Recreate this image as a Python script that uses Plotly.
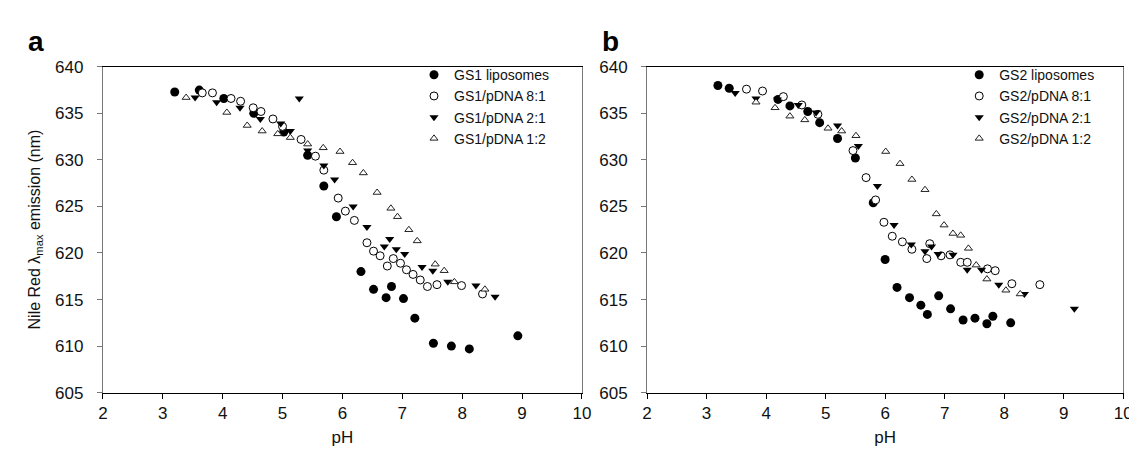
import plotly.graph_objects as go

# ---------------- Panel a (GS1) ----------------
a_lipo_x = [3.20, 3.61, 4.02, 4.52, 5.02, 5.42, 5.69, 5.90, 6.31, 6.52, 6.73, 6.82, 7.02, 7.21, 7.52, 7.82, 8.12, 8.93]
a_lipo_y = [637.3, 637.5, 636.6, 635.0, 633.0, 630.5, 627.2, 623.9, 618.0, 616.1, 615.2, 616.4, 615.1, 613.0, 610.3, 610.0, 609.7, 611.1]

a_81_x = [3.66, 3.83, 4.14, 4.30, 4.51, 4.64, 4.84, 5.00, 5.31, 5.55, 5.69, 5.93, 6.05, 6.20, 6.41, 6.52, 6.63, 6.75, 6.85, 6.97, 7.07, 7.18, 7.30, 7.42, 7.58, 7.99, 8.34]
a_81_y = [637.2, 637.2, 636.6, 636.3, 635.6, 635.2, 634.4, 633.6, 632.2, 630.4, 628.9, 625.9, 624.5, 623.5, 621.1, 620.2, 619.7, 618.6, 619.4, 618.9, 618.2, 617.7, 617.1, 616.4, 616.6, 616.5, 615.6]

a_21_x = [3.54, 3.90, 4.29, 4.63, 4.97, 5.13, 5.28, 5.42, 5.69, 5.87, 6.18, 6.41, 6.70, 6.79, 6.90, 7.04, 7.33, 7.51, 7.76, 8.23, 8.55]
a_21_y = [636.7, 636.2, 635.6, 634.4, 633.9, 633.1, 636.6, 631.0, 629.4, 627.9, 625.0, 622.8, 620.7, 621.5, 620.4, 619.9, 618.5, 618.1, 616.9, 616.5, 615.3]

a_12_x = [3.39, 4.07, 4.41, 4.66, 4.92, 5.13, 5.42, 5.68, 5.96, 6.17, 6.35, 6.58, 6.81, 6.92, 7.11, 7.25, 7.55, 7.70, 7.87, 8.38]
a_12_y = [636.7, 635.1, 633.7, 633.1, 632.8, 632.4, 631.7, 631.3, 630.9, 629.7, 628.6, 626.5, 624.8, 623.9, 622.5, 621.3, 618.8, 618.1, 616.9, 616.1]

# ---------------- Panel b (GS2) ----------------
b_lipo_x = [3.19, 3.38, 4.20, 4.40, 4.70, 4.90, 5.20, 5.50, 5.80, 6.00, 6.20, 6.41, 6.60, 6.71, 6.90, 7.10, 7.31, 7.51, 7.71, 7.81, 8.11]
b_lipo_y = [638.0, 637.7, 636.5, 635.8, 635.2, 634.0, 632.3, 630.2, 625.4, 619.3, 616.3, 615.2, 614.4, 613.4, 615.4, 614.0, 612.8, 613.0, 612.4, 613.2, 612.5]

b_81_x = [3.67, 3.94, 4.29, 4.60, 4.87, 5.46, 5.68, 5.84, 5.98, 6.12, 6.29, 6.45, 6.70, 6.75, 6.94, 7.09, 7.27, 7.38, 7.72, 7.85, 8.13, 8.60]
b_81_y = [637.6, 637.4, 636.8, 635.9, 634.9, 631.0, 628.1, 625.7, 623.3, 621.8, 621.2, 620.4, 619.4, 621.0, 619.7, 619.8, 619.0, 619.0, 618.3, 618.1, 616.7, 616.6]

b_21_x = [3.48, 3.83, 4.19, 4.54, 4.84, 5.20, 5.55, 5.87, 6.15, 6.44, 6.67, 6.78, 6.89, 7.14, 7.38, 7.62, 7.91, 8.34, 9.18]
b_21_y = [637.2, 636.6, 636.5, 635.9, 635.1, 633.7, 631.5, 627.2, 623.0, 620.9, 620.2, 620.7, 619.9, 619.8, 618.2, 618.2, 616.6, 615.6, 614.0]

b_12_x = [3.83, 4.15, 4.40, 4.65, 5.04, 5.27, 5.51, 6.01, 6.25, 6.45, 6.67, 6.86, 6.99, 7.14, 7.27, 7.40, 7.53, 7.71, 8.03, 8.27]
b_12_y = [636.2, 635.6, 634.7, 634.3, 633.4, 633.1, 632.6, 630.9, 629.6, 627.9, 626.8, 624.2, 623.0, 622.1, 621.9, 620.5, 618.7, 617.2, 616.0, 615.6]

names_a = ["GS1 liposomes", "GS1/pDNA 8:1", "GS1/pDNA 2:1", "GS1/pDNA 1:2"]
names_b = ["GS2 liposomes", "GS2/pDNA 8:1", "GS2/pDNA 2:1", "GS2/pDNA 1:2"]
x_ticks = [2, 3, 4, 5, 6, 7, 8, 9, 10]
y_ticks = [605, 610, 615, 620, 625, 630, 635, 640]

styles = [
    dict(symbol="circle", size=9, color="black", line=dict(color="black", width=0)),
    dict(symbol="circle", size=8, color="white", line=dict(color="black", width=1)),
    dict(symbol="triangle-down", size=8, color="black", line=dict(color="black", width=0)),
    dict(symbol="triangle-up", size=7, color="white", line=dict(color="#222222", width=1)),
]

fig = go.Figure()
series_a = [(a_lipo_x, a_lipo_y), (a_81_x, a_81_y), (a_21_x, a_21_y), (a_12_x, a_12_y)]
series_b = [(b_lipo_x, b_lipo_y), (b_81_x, b_81_y), (b_21_x, b_21_y), (b_12_x, b_12_y)]
for (x, y), nm, st in zip(series_a, names_a, styles):
    fig.add_trace(go.Scatter(x=x, y=y, mode="markers", name=nm, marker=st,
                             xaxis="x", yaxis="y", legend="legend"))
for (x, y), nm, st in zip(series_b, names_b, styles):
    fig.add_trace(go.Scatter(x=x, y=y, mode="markers", name=nm, marker=st,
                             xaxis="x2", yaxis="y2", legend="legend2"))

FONT = "Liberation Sans, Arial, sans-serif"
W, H = 1137, 455
y_dom = [1 - 392 / H, 1 - 52 / H]

def xaxis(dom, anchor):
    return dict(domain=dom, anchor=anchor, range=[2, 10], tickvals=x_ticks,
                ticks="outside", ticklen=5, tickcolor="black", showline=True,
                linecolor="black", linewidth=1, mirror=True, showgrid=False,
                zeroline=False, tickfont=dict(size=17, color="#111"),
                title=dict(text="pH", font=dict(size=17, color="#111"), standoff=9))

def yaxis(anchor):
    return dict(domain=y_dom, anchor=anchor, range=[605, 640], tickvals=y_ticks,
                ticks="outside", ticklen=5, tickcolor="#777", showline=True,
                linecolor="#777", linewidth=1, mirror=True, showgrid=False,
                zeroline=False, tickfont=dict(size=17, color="#111"),
                ticklabelstandoff=10)

leg_common = dict(font=dict(size=14, color="#111", family=FONT), bgcolor="rgba(0,0,0,0)",
                  borderwidth=0, xanchor="left", yanchor="top", tracegroupgap=0,
                  itemsizing="trace")

fig.update_layout(
    width=W, height=H, margin=dict(l=0, r=0, t=0, b=0),
    paper_bgcolor="white", plot_bgcolor="white",
    font=dict(family=FONT, color="#111"),
    xaxis=xaxis([91 / W, 576 / W], "y"),
    yaxis=yaxis("x"),
    xaxis2=xaxis([642 / W, 1124 / W], "y2"),
    yaxis2=yaxis("x2"),
    legend=dict(x=406 / W, y=1 - 44 / H, **leg_common),
    legend2=dict(x=958 / W, y=1 - 44 / H, **leg_common),
    annotations=[
        dict(text="<b>a</b>", x=14 / W, y=1 - 8 / H, xref="paper", yref="paper",
             xanchor="left", yanchor="top", showarrow=False, borderpad=0,
             font=dict(size=28, color="black")),
        dict(text="<b>b</b>", x=595 / W, y=1 - 8 / H, xref="paper", yref="paper",
             xanchor="left", yanchor="top", showarrow=False, borderpad=0,
             font=dict(size=28, color="black")),
        dict(text="Nile Red λ<sub>max</sub> emission (nm)", x=23 / W, y=1 - 222 / H,
             xref="paper", yref="paper", xanchor="center", yanchor="middle", textangle=-90,
             showarrow=False, font=dict(size=16, color="#111")),
    ],
)

fig.write_html("out.html")
